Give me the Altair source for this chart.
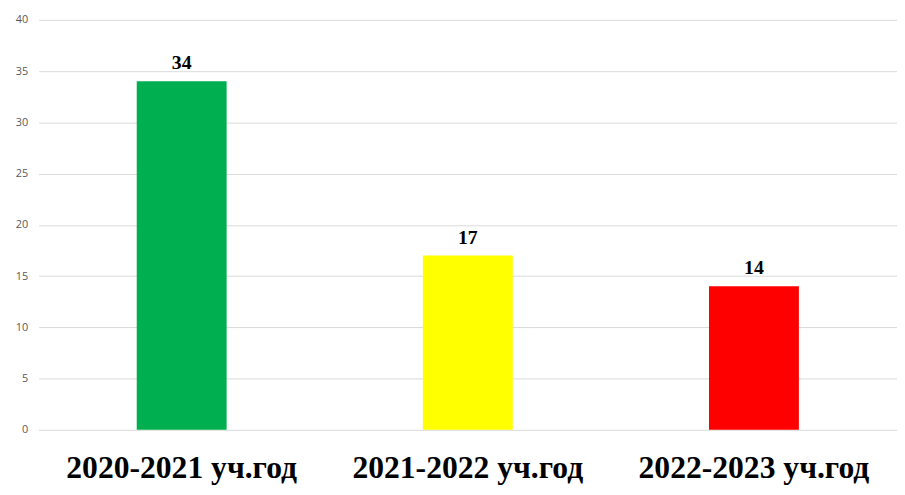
import altair as alt
import pandas as pd

categories = ["2020-2021 уч.год", "2021-2022 уч.год", "2022-2023 уч.год"]
values = [34, 17, 14]
colors = ["#00b050", "#ffff00", "#ff0000"]

df = pd.DataFrame({"cat": categories, "val": values, "color": colors})

x = alt.X("cat:N", sort=categories, title=None,
          scale=alt.Scale(paddingInner=0, paddingOuter=0),
          axis=alt.Axis(labelAngle=0, labelFont="Liberation Serif", labelFontSize=32,
                        labelFontWeight="bold", labelColor="#000000", labelPadding=23,
                        labelLimit=0, domain=False, ticks=False, grid=False))
y = alt.Y("val:Q", title=None,
          scale=alt.Scale(domain=[0, 40], nice=False),
          axis=alt.Axis(values=[0, 5, 10, 15, 20, 25, 30, 35, 40], labelFont="Open Sans",
                        labelFontSize=11, labelColor="#595959", labelPadding=11,
                        domain=False, ticks=False, gridColor="#d9d9d9", gridWidth=1))

bars = alt.Chart(df).mark_bar(size=91).encode(
    x=x, y=y, color=alt.Color("color:N", scale=None)
)
text = alt.Chart(df).mark_text(dy=-8, baseline="bottom", font="Liberation Serif",
                               fontSize=20, fontWeight="bold", color="#000000").encode(
    x=alt.X("cat:N", sort=categories), y="val:Q", text="val:Q"
)

chart = (bars + text).properties(
    width=869, height=415,
    autosize=alt.AutoSizeParams(type="none"),
    padding={"left": 31, "top": 9, "right": 0, "bottom": 62},
).configure_view(stroke=None)

chart.save("out.html", embed_options={"renderer": "svg", "actions": False})
